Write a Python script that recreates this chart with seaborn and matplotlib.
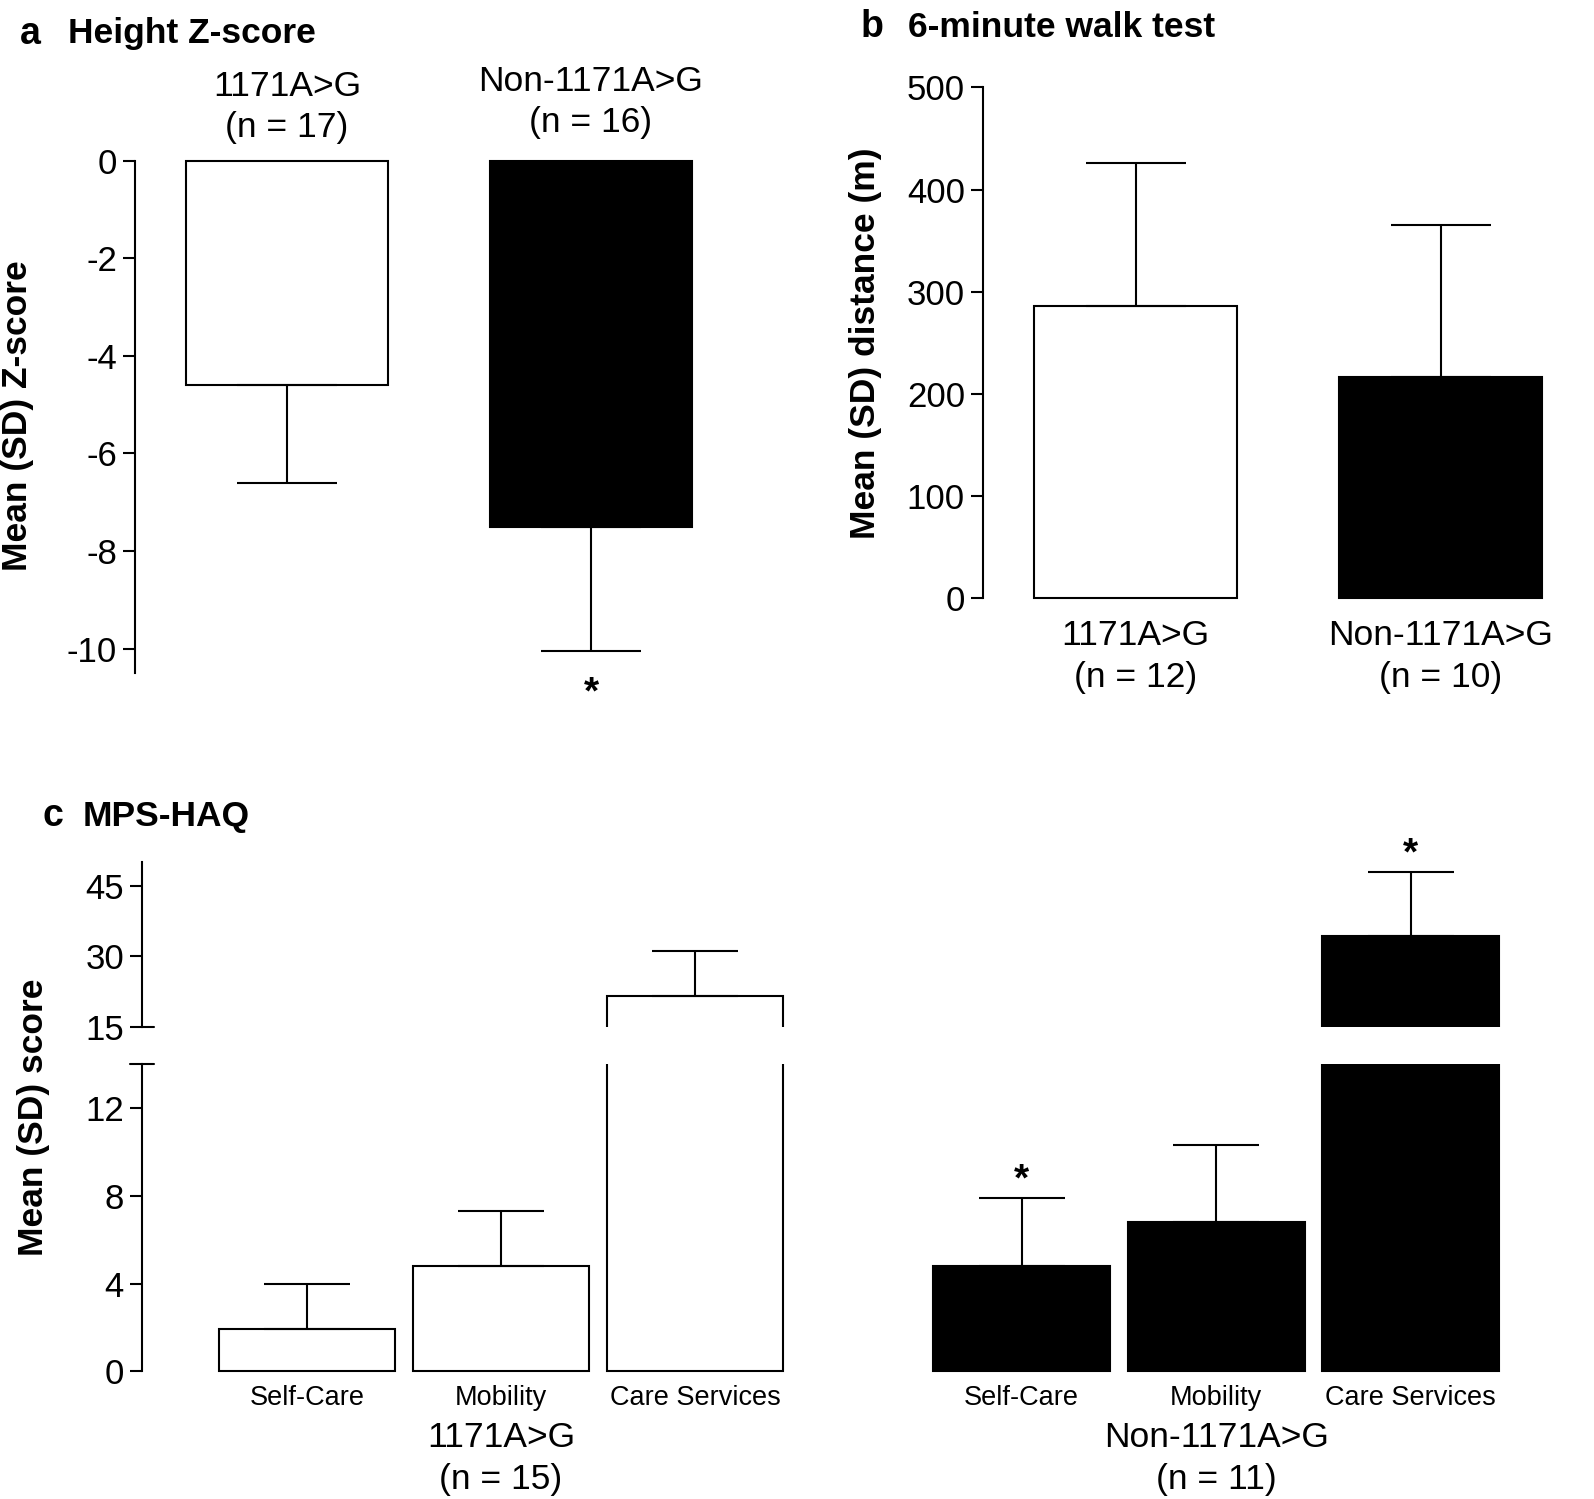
"""
Genotype comparison figure: height Z-score, 6-minute walk test and MPS-HAQ scores.
"""

import matplotlib
matplotlib.use("Agg")
import matplotlib.pyplot as plt
import matplotlib.transforms as mtransforms
import pandas as pd
import seaborn as sns


# ──────────────────────────────────────────────
# Data
# ──────────────────────────────────────────────

genotypes = ["1171A>G", "Non-1171A>G"]
bar_colors = ["white", "black"]

# a: height Z-score (mean, SD)
height_n = [17, 16]
height_mean = [-4.6, -7.5]
height_sd = [2.0, 2.55]
height_sig = [False, True]

# b: 6-minute walk test distance in metres
walk_n = [12, 10]
walk_mean = [286, 216]
walk_sd = [140, 149]

# c: MPS-HAQ domain scores
haq_domains = ["Self-Care", "Mobility", "Care Services"]
haq_n = [15, 11]
haq_mean_1171 = [1.93, 4.82, 21.5]
haq_sd_1171 = [2.05, 2.48, 9.5]
haq_sig_1171 = [False, False, False]
haq_mean_non = [4.82, 6.81, 34.3]
haq_sd_non = [3.1, 3.5, 13.6]
haq_sig_non = [True, False, True]


# ──────────────────────────────────────────────
# Style / figure helpers
# ──────────────────────────────────────────────

sns.set_style("ticks")
plt.rcParams["font.family"] = ["Liberation Sans", "DejaVu Sans"]
plt.rcParams["axes.unicode_minus"] = False
plt.rcParams["axes.linewidth"] = 1.5
for key in ["text.color", "axes.labelcolor", "axes.edgecolor", "xtick.color", "ytick.color"]:
    plt.rcParams[key] = "black"

W, H = 1594, 1499
fig = plt.figure(figsize=(W / 100, H / 100), dpi=100)
# pixel coordinates, origin at the top-left corner
px = mtransforms.Affine2D().scale(1 / W, -1 / H).translate(0, 1) + fig.transFigure

TICK_FS = 25
LABEL_FS = 25.5
BOLD_FS = 25.5


def add_axes_px(left, top, right, bottom):
    return fig.add_axes([left / W, 1 - bottom / H, (right - left) / W, (bottom - top) / H])


def draw_bars(ax, labels, means, sds, colors, width, capsize, up=True):
    """Bars through seaborn, one-sided SD whiskers pointing away from zero."""
    df = pd.DataFrame({"label": labels, "mean": means})
    sns.barplot(data=df, x="label", y="mean", hue="label", palette=colors,
                saturation=1, width=width, edgecolor="black", linewidth=1.5,
                legend=False, ax=ax)
    zeros = [0] * len(sds)
    yerr = [zeros, sds] if up else [sds, zeros]
    ax.errorbar(range(len(means)), means, yerr=yerr, fmt="none", ecolor="black",
                elinewidth=1.5, capsize=capsize, capthick=1.5)
    ax.set_xlabel("")
    ax.set_ylabel("")
    ax.tick_params(axis="y", length=9, width=1.5, labelsize=TICK_FS, pad=4)


def group_label(ax, x, baseline, name, n, size=LABEL_FS, gap=41):
    tf = mtransforms.blended_transform_factory(ax.transData, px)
    ax.text(x, baseline, name, transform=tf, ha="center", va="baseline", fontsize=size)
    ax.text(x, baseline + gap, f"(n = {n})", transform=tf, ha="center",
            va="baseline", fontsize=size)


def star(ax, x, y, offset):
    ax.annotate("*", xy=(x, y), xytext=(0, offset), textcoords="offset points",
                ha="center", va="baseline", fontsize=28, fontweight="bold")


# ──────────────────────────────────────────────
# a: Height Z-score
# ──────────────────────────────────────────────

ax_a = add_axes_px(135, 155.7, 743, 673)
draw_bars(ax_a, genotypes, height_mean, height_sd, bar_colors, 0.667, 36, up=False)
ax_a.set_xlim(-0.5, 1.5)
ax_a.set_ylim(-10.5, 0.1)
ax_a.set_yticks(range(0, -11, -2))
ax_a.set_xticks([])
sns.despine(ax=ax_a, bottom=True)
ax_a.spines["left"].set_bounds(-10.5, 0)

for i, (g, n, base) in enumerate(zip(genotypes, height_n, [96, 91.3])):
    group_label(ax_a, i, base, g, n)
for i, sig in enumerate(height_sig):
    if sig:
        star(ax_a, i, height_mean[i] - height_sd[i], -38)

# ──────────────────────────────────────────────
# b: 6-minute walk test
# ──────────────────────────────────────────────

ax_b = add_axes_px(983, 87.4, 1593, 601)
walk_labels = [f"{g}\n(n = {n})" for g, n in zip(genotypes, walk_n)]
draw_bars(ax_b, walk_labels, walk_mean, walk_sd, bar_colors, 0.667, 36)
ax_b.set_xlim(-0.5, 1.5)
ax_b.set_ylim(-3, 500)
ax_b.set_yticks(range(0, 501, 100))
ax_b.tick_params(axis="x", length=0, pad=13, labelsize=LABEL_FS)
for lbl in ax_b.get_xticklabels():
    lbl.set_linespacing(1.36)
sns.despine(ax=ax_b, bottom=True)
ax_b.spines["left"].set_bounds(0, 500)

# ──────────────────────────────────────────────
# c: MPS-HAQ (broken y axis)
# ──────────────────────────────────────────────

lo_l = add_axes_px(142, 1064.4, 792, 1373.6)
hi_l = add_axes_px(142, 862, 792, 1026.8)
lo_r = add_axes_px(924.35, 1064.4, 1508, 1373.6)
hi_r = add_axes_px(924.35, 862, 1508, 1026.8)

groups_c = [
    (lo_l, hi_l, haq_mean_1171, haq_sd_1171, haq_sig_1171, "white", (-0.85, 2.5)),
    (lo_r, hi_r, haq_mean_non, haq_sd_non, haq_sig_non, "black", (-0.5, 2.5)),
]
for lo, hi, means, sds, sigs, color, xlim in groups_c:
    for ax in (lo, hi):
        draw_bars(ax, haq_domains, means, sds, [color] * 3, 0.91, 31)
        ax.set_xlim(*xlim)
    lo.set_ylim(-0.1, 14)
    hi.set_ylim(15, 50)
    lo.tick_params(axis="x", length=0, pad=8, labelsize=19.5)
    hi.set_xticks([])
    for i, sig in enumerate(sigs):
        if sig:
            top = means[i] + sds[i]
            star(hi if top > 14 else lo, i, top, 5)

for lo, hi in [(lo_l, hi_l)]:
    lo.set_yticks([0, 4, 8, 12])
    hi.set_yticks([15, 30, 45])
    sns.despine(ax=lo, bottom=True)
    sns.despine(ax=hi, bottom=True)
    lo.spines["left"].set_bounds(0, 14)
    hi.spines["left"].set_bounds(15, 50)
    d = 12 / 650
    lo.plot([-d, d], [1, 1], transform=lo.transAxes, color="black", lw=1.5, clip_on=False)
    hi.plot([0, d], [0, 0], transform=hi.transAxes, color="black", lw=1.5, clip_on=False)

for ax in (lo_r, hi_r):
    ax.set_yticks([])
    sns.despine(ax=ax, left=True, bottom=True)
lo_r.set_ylim(-0.1, 14)
hi_r.set_ylim(15, 50)

group_label(lo_l, 1, 1447, genotypes[0], haq_n[0], gap=42)
group_label(lo_r, 1, 1447, genotypes[1], haq_n[1], gap=42)

# ──────────────────────────────────────────────
# Panel titles and y labels
# ──────────────────────────────────────────────

titles = [("a", 20, 68, 43.5, "Height Z-score"),
          ("b", 861, 908, 37, "6-minute walk test"),
          ("c", 43, 83, 826, "MPS-HAQ")]
for letter, xl, xt, yb, text in titles:
    fig.text(xl, yb, letter, transform=px, fontsize=27, fontweight="bold", va="baseline")
    fig.text(xt, yb, text, transform=px, fontsize=BOLD_FS, fontweight="bold", va="baseline")

ylabels = [(18, 416, "Mean (SD) Z-score"),
           (866, 343, "Mean (SD) distance (m)"),
           (34, 1117, "Mean (SD) score")]
for x, y, text in ylabels:
    fig.text(x, y, text, transform=px, rotation=90, ha="center", va="center",
             fontsize=BOLD_FS, fontweight="bold")

fig.savefig("out.png", dpi=100)
